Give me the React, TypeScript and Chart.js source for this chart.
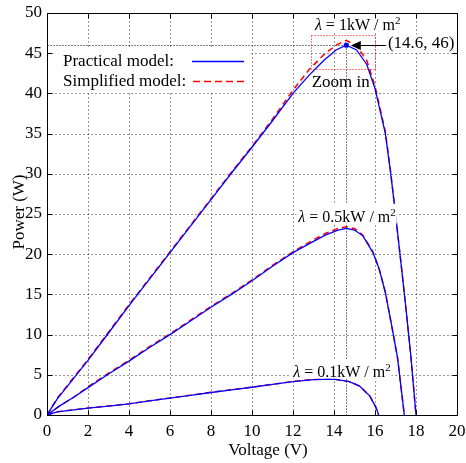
import React, { useEffect, useRef } from "react";
import { Chart, registerables } from "chart.js";

Chart.register(...registerables);

// ---------- data ----------
const xTicks = [0, 2, 4, 6, 8, 10, 12, 14, 16, 18, 20];
const yTicks = [0, 5, 10, 15, 20, 25, 30, 35, 40, 45, 50];

const voltage1k = [0, 0.5, 1, 1.5, 2, 3, 4, 5, 6, 7, 8, 9, 10, 11, 12, 12.8, 13.5, 14.1, 14.6, 15.1, 15.6, 16, 16.5, 16.75, 17, 17.25, 17.5, 17.75, 18];
const practical1k = [0, 2.0, 3.6, 5.2, 6.8, 10.2, 13.6, 16.9, 20.2, 23.5, 26.8, 30.1, 33.3, 36.6, 40.0, 42.3, 44.1, 45.4, 46.0, 45.4, 43.6, 40.6, 35.1, 30.4, 25.0, 19.3, 13.5, 7.3, 0];
const simplified1k = [0, 2.1, 3.7, 5.3, 6.9, 10.3, 13.7, 17.0, 20.3, 23.6, 26.9, 30.2, 33.4, 36.8, 40.4, 43.0, 44.8, 46.0, 46.6, 45.9, 44.1, 40.9, 35.3, 30.5, 25.0, 19.3, 13.5, 7.3, 0];

const voltage05 = [0, 0.6, 1.3, 2, 3, 4, 5, 6, 7, 8, 9, 10, 11, 12, 13, 13.6, 14.2, 14.6, 15, 15.4, 15.9, 16.2, 16.5, 16.8, 17.1, 17.43];
const practical05 = [0, 1.1, 2.2, 3.4, 5.1, 6.7, 8.4, 10.0, 11.7, 13.4, 15.0, 16.7, 18.5, 20.2, 21.6, 22.4, 23.0, 23.2, 23.0, 22.3, 20.2, 18.2, 15.3, 11.3, 7.1, 0];
const simplified05 = [0, 1.1, 2.2, 3.5, 5.2, 6.8, 8.5, 10.1, 11.8, 13.5, 15.1, 16.8, 18.6, 20.3, 21.8, 22.6, 23.2, 23.4, 23.2, 22.4, 20.3, 18.2, 15.3, 11.3, 7.1, 0];

const voltage01 = [0, 0.5, 1, 2, 3, 4, 5, 6, 7, 8, 9, 10, 11, 12, 13, 14, 14.75, 15.25, 15.75, 16.05, 16.18];
const practical01 = [0, 0.4, 0.55, 0.85, 1.1, 1.38, 1.75, 2.1, 2.45, 2.8, 3.12, 3.45, 3.8, 4.15, 4.4, 4.45, 4.15, 3.6, 2.35, 0.92, 0];
const simplified01 = [0, 0.4, 0.56, 0.87, 1.12, 1.4, 1.77, 2.12, 2.47, 2.82, 3.14, 3.47, 3.82, 4.17, 4.42, 4.46, 4.15, 3.6, 2.35, 0.92, 0];

const mppVoltage = 14.6;
const mppPower = 46;
const mppLabel = "(14.6, 46)";
const zoomBoxVoltage = [12.88, 16.0];
const zoomBoxPower = [43.0, 47.3];

const irradianceLabels = ["1", "0.5", "0.1"];
const irradianceLabelAt = [
  [13.07, 47.9],
  [12.26, 24.0],
  [12.01, 4.73],
];
const mppLabelAt = [16.63, 45.7];
const arrowFromVoltage = 16.55;
const arrowTipVoltage = 14.82;
const zoomTextAt = [12.91, 40.8];

const legendLabels = ["Practical model:", "Simplified model:"];
const xTitle = "Voltage (V)";
const yTitle = "Power (W)";

// ---------- styling ----------
const SERIF = '"Liberation Serif", "Times New Roman", Times, serif';
const BLUE = "#0000ff";
const RED = "#ff0000";

const zip = (xs: number[], ys: number[]) => xs.map((x, i) => ({ x, y: ys[i] }));
const snap = (v: number) => Math.floor(v + 0.5) + 0.5;

function seg(ctx: CanvasRenderingContext2D, x1: number, y1: number, x2: number, y2: number) {
  ctx.beginPath();
  ctx.moveTo(x1, y1);
  ctx.lineTo(x2, y2);
  ctx.stroke();
}

function lambdaLabel(ctx: CanvasRenderingContext2D, left: number, baseline: number, value: string) {
  const main = 16;
  const sup = 11;
  ctx.font = `italic ${main}px ${SERIF}`;
  const wL = ctx.measureText("λ").width;
  ctx.font = `${main}px ${SERIF}`;
  const rest = ` = ${value}kW / m`;
  const wR = ctx.measureText(rest).width;
  ctx.font = `${sup}px ${SERIF}`;
  const wS = ctx.measureText("2").width;
  const total = wL + wR + wS;
  ctx.fillStyle = "#ffffff";
  ctx.fillRect(left - 2, baseline - 18, total + 3, 19.5);
  ctx.fillStyle = "#000000";
  ctx.textAlign = "left";
  ctx.textBaseline = "alphabetic";
  ctx.font = `italic ${main}px ${SERIF}`;
  ctx.fillText("λ", left, baseline);
  ctx.font = `${main}px ${SERIF}`;
  ctx.fillText(rest, left + wL, baseline);
  ctx.font = `${sup}px ${SERIF}`;
  ctx.fillText("2", left + wL + wR, baseline - 6);
}

const gridPlugin = {
  id: "matlabGrid",
  beforeDatasetsDraw(chart: any) {
    const { ctx, chartArea: a, scales } = chart;
    const xs = scales.x;
    const ys = scales.y;
    ctx.save();
    ctx.strokeStyle = "#333333";
    ctx.lineWidth = 1;
    ctx.setLineDash([1, 3]);
    for (const t of xTicks) {
      if (t === xTicks[0] || t === xTicks[xTicks.length - 1]) continue;
      const px = snap(xs.getPixelForValue(t));
      seg(ctx, px, snap(a.top), px, snap(a.bottom));
    }
    for (const t of yTicks) {
      if (t === yTicks[0] || t === yTicks[yTicks.length - 1]) continue;
      const py = snap(ys.getPixelForValue(t));
      seg(ctx, snap(a.left), py, snap(a.right), py);
    }
    ctx.restore();
  },
};

const annotationPlugin = {
  id: "annotations",
  afterDatasetsDraw(chart: any) {
    const { ctx, chartArea: a, scales } = chart;
    const X = (v: number) => scales.x.getPixelForValue(v);
    const Y = (v: number) => scales.y.getPixelForValue(v);
    ctx.save();

    // MPP guide lines
    const mx = snap(X(mppVoltage));
    const my = snap(Y(mppPower));
    ctx.strokeStyle = "#000";
    ctx.lineWidth = 1;
    ctx.setLineDash([1, 2]);
    seg(ctx, snap(a.left), my, mx, my);
    seg(ctx, mx, my, mx, snap(a.bottom));

    // zoom box
    ctx.strokeStyle = RED;
    ctx.setLineDash([1, 2]);
    const bx0 = snap(X(zoomBoxVoltage[0]));
    const bx1 = snap(X(zoomBoxVoltage[1]));
    const by0 = snap(Y(zoomBoxPower[1]));
    const by1 = snap(Y(zoomBoxPower[0]));
    ctx.strokeRect(bx0, by0, bx1 - bx0, by1 - by0);

    // arrow
    ctx.setLineDash([]);
    ctx.strokeStyle = "#000";
    const tip = X(arrowTipVoltage);
    seg(ctx, X(arrowFromVoltage), my, tip + 9, my);
    ctx.fillStyle = "#000";
    ctx.beginPath();
    ctx.moveTo(tip, my);
    ctx.lineTo(tip + 10, my - 4.5);
    ctx.lineTo(tip + 10, my + 4.5);
    ctx.closePath();
    ctx.fill();

    // MPP point
    ctx.fillStyle = BLUE;
    ctx.beginPath();
    ctx.arc(X(mppVoltage), Y(mppPower), 2.6, 0, Math.PI * 2);
    ctx.fill();

    // irradiance labels
    irradianceLabels.forEach((lab, i) => {
      const [v, p] = irradianceLabelAt[i];
      lambdaLabel(ctx, X(v), Y(p), lab);
    });

    // MPP label
    ctx.font = `17px ${SERIF}`;
    ctx.textAlign = "left";
    ctx.textBaseline = "alphabetic";
    const lx = X(mppLabelAt[0]);
    const ly = Y(mppLabelAt[1]);
    const lw = ctx.measureText(mppLabel).width;
    ctx.fillStyle = "#fff";
    ctx.fillRect(lx - 1, ly - 13, lw + 2, 17);
    ctx.fillStyle = "#000";
    ctx.fillText(mppLabel, lx, ly);

    // zoom text
    ctx.fillText("Zoom in", X(zoomTextAt[0]), Y(zoomTextAt[1]));

    // legend
    ctx.fillStyle = "#fff";
    ctx.fillRect(a.left + 1, a.top + 34, 201, 44);
    ctx.fillStyle = "#000";
    ctx.font = `17px ${SERIF}`;
    ctx.fillText(legendLabels[0], a.left + 16, a.top + 53);
    ctx.fillText(legendLabels[1], a.left + 16, a.top + 73);
    ctx.lineWidth = 1.3;
    ctx.strokeStyle = BLUE;
    seg(ctx, a.left + 145, a.top + 48.5, a.left + 197, a.top + 48.5);
    ctx.lineWidth = 1.5;
    ctx.strokeStyle = RED;
    ctx.setLineDash([7, 4]);
    seg(ctx, a.left + 146, a.top + 68.5, a.left + 200, a.top + 68.5);
    ctx.setLineDash([]);

    // frame and inward ticks
    ctx.strokeStyle = "#000";
    ctx.lineWidth = 1;
    const L = snap(a.left), R = snap(a.right), T = snap(a.top), B = snap(a.bottom);
    ctx.strokeRect(L, T, R - L, B - T);
    const tl = 5;
    for (const t of xTicks) {
      const px = snap(X(t));
      seg(ctx, px, B, px, B - tl);
      seg(ctx, px, T, px, T + tl);
    }
    for (const t of yTicks) {
      const py = snap(Y(t));
      seg(ctx, L, py, L + tl, py);
      seg(ctx, R, py, R - tl, py);
    }

    // axis titles
    ctx.fillStyle = "#000";
    ctx.font = `17px ${SERIF}`;
    ctx.textAlign = "center";
    ctx.textBaseline = "alphabetic";
    ctx.fillText(xTitle, 268, 455);
    ctx.translate(23.5, 212);
    ctx.rotate(-Math.PI / 2);
    ctx.fillText(yTitle, 0, 0);

    ctx.restore();
  },
};

export default function App() {
  const ref = useRef<HTMLCanvasElement>(null);

  useEffect(() => {
    if (!ref.current) return;
    const line = (data: any, color: string, dashed: boolean) => ({
      data,
      borderColor: color,
      backgroundColor: color,
      borderWidth: dashed ? 1.5 : 1.3,
      borderDash: dashed ? [6, 4] : [],
      pointRadius: 0,
      fill: false,
      tension: 0,
    });
    const tickFont = { family: SERIF, size: 17 };
    const chart = new Chart(ref.current, {
      type: "line",
      data: {
        datasets: [
          line(zip(voltage1k, practical1k), BLUE, false),
          line(zip(voltage05, practical05), BLUE, false),
          line(zip(voltage01, practical01), BLUE, false),
          line(zip(voltage1k, simplified1k), RED, true),
          line(zip(voltage05, simplified05), RED, true),
          line(zip(voltage01, simplified01), RED, true),
        ],
      },
      options: {
        responsive: false,
        animation: false,
        devicePixelRatio: 1,
        events: [],
        layout: { padding: { left: 0, right: 9, top: 13, bottom: 0 } },
        plugins: { legend: { display: false }, tooltip: { enabled: false } },
        scales: {
          x: {
            type: "linear",
            min: 0,
            max: 20,
            afterBuildTicks: (s: any) => {
              s.ticks = xTicks.map((v) => ({ value: v }));
            },
            afterFit: (s: any) => {
              s.height = 48;
              s.paddingLeft = 0;
              s.paddingRight = 0;
            },
            grid: { display: false, drawTicks: false },
            border: { display: false },
            ticks: { font: tickFont, color: "#000", padding: 6, maxRotation: 0, autoSkip: false },
          },
          y: {
            type: "linear",
            min: 0,
            max: 50,
            afterBuildTicks: (s: any) => {
              s.ticks = yTicks.map((v) => ({ value: v }));
            },
            afterFit: (s: any) => {
              s.width = 47;
              s.paddingTop = 0;
              s.paddingBottom = 0;
            },
            grid: { display: false, drawTicks: false },
            border: { display: false },
            ticks: { font: tickFont, color: "#000", padding: 5, autoSkip: false },
          },
        },
      },
      plugins: [gridPlugin, annotationPlugin],
    } as any);
    return () => chart.destroy();
  }, []);

  return (
    <div style={{ position: "fixed", left: 0, top: 0, width: 466, height: 463, background: "#fff" }}>
      <canvas ref={ref} width={466} height={463} style={{ display: "block", width: 466, height: 463 }} />
    </div>
  );
}
